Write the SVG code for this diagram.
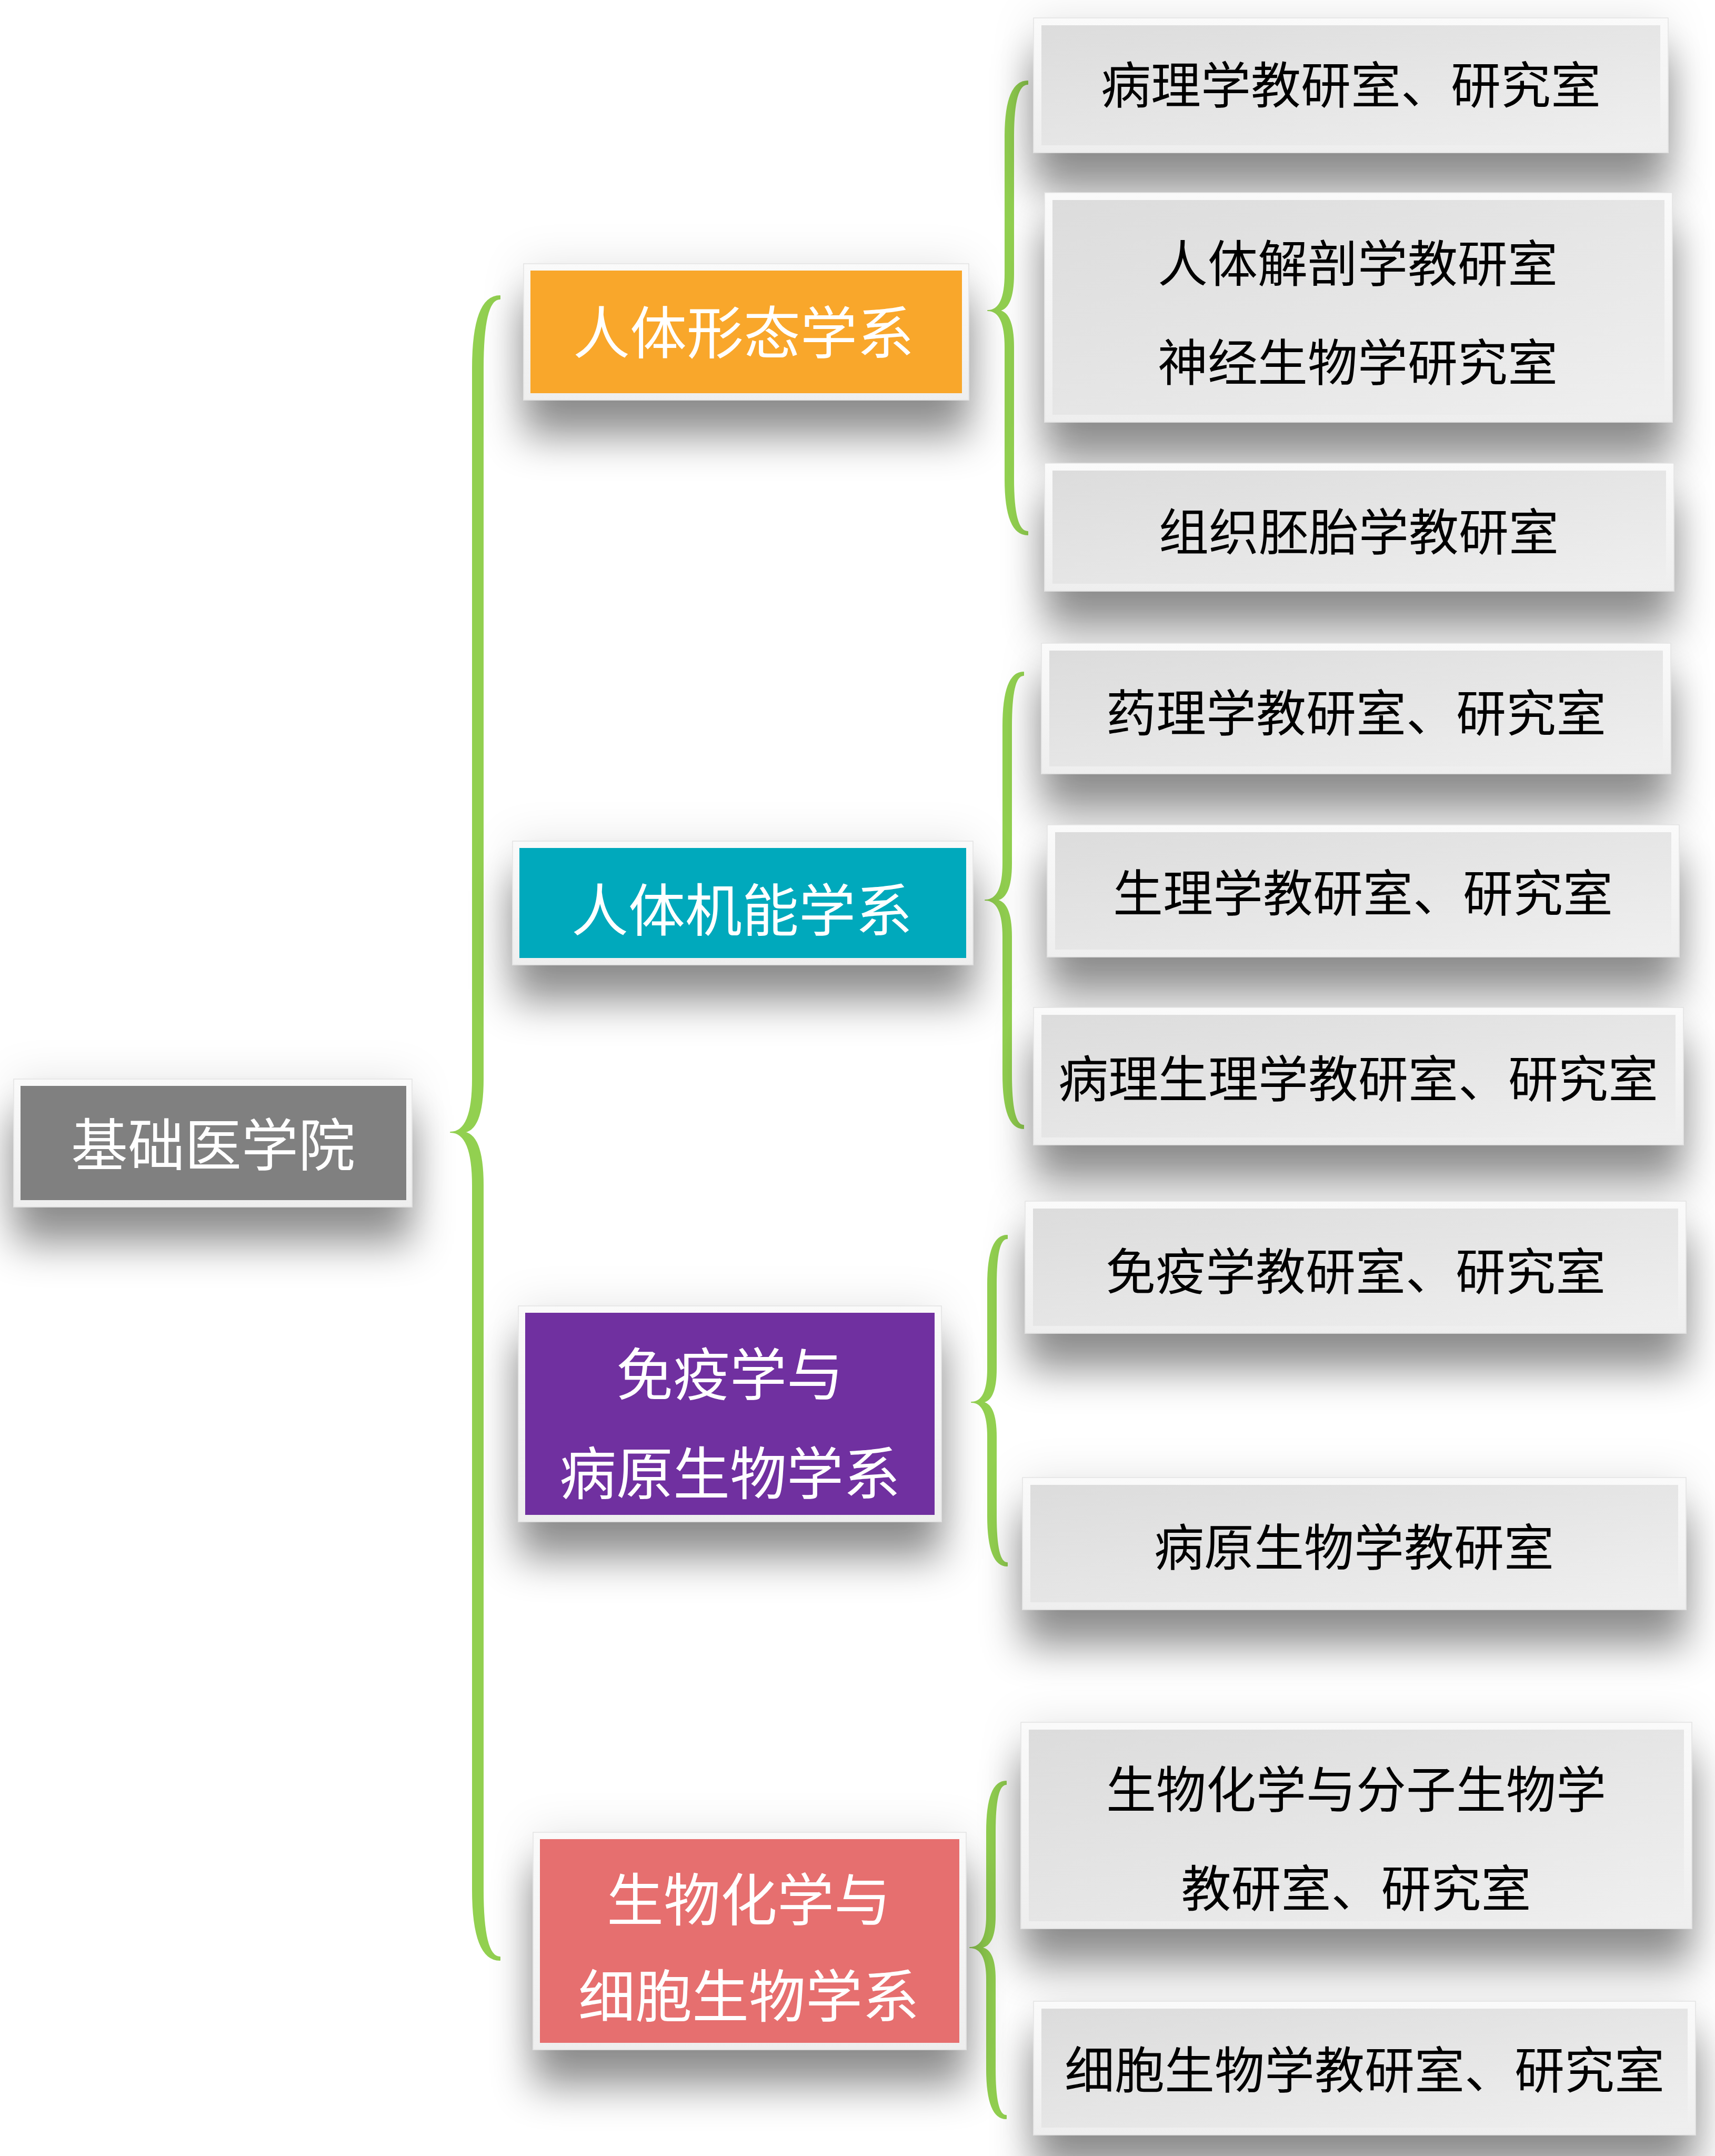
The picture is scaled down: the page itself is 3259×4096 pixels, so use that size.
<svg xmlns="http://www.w3.org/2000/svg" width="3259" height="4096" viewBox="0 0 3259 4096">
<defs>
<filter id="sh" x="-20%" y="-50%" width="140%" height="230%">
<feGaussianBlur in="SourceAlpha" stdDeviation="38" result="b1"/>
<feOffset in="b1" dy="70" result="o1"/>
<feFlood flood-color="#000" flood-opacity="0.42"/>
<feComposite in2="o1" operator="in" result="s1"/>
<feGaussianBlur in="SourceAlpha" stdDeviation="40" result="b2"/>
<feFlood flood-color="#000" flood-opacity="0.10"/>
<feComposite in2="b2" operator="in" result="s2"/>
<feMerge><feMergeNode in="s2"/><feMergeNode in="s1"/><feMergeNode in="SourceGraphic"/></feMerge>
</filter>
<linearGradient id="gg" x1="0" y1="0" x2="1" y2="1">
<stop offset="0" stop-color="#DCDCDC"/>
<stop offset="1" stop-color="#EFEFEF"/>
</linearGradient>
<linearGradient id="wb" x1="0" y1="0" x2="0" y2="1">
<stop offset="0" stop-color="#FAFAFA"/>
<stop offset="1" stop-color="#EEEEEE"/>
</linearGradient>
</defs>
<style>
.frame{fill:url(#wb);stroke:#E2E2E2;stroke-width:1.5}
.lv3{fill:url(#gg)}
.brace{fill:#92D050;stroke:#92D050;stroke-width:2;stroke-linejoin:round}
.tw{font-family:"Noto Sans CJK SC","Noto Sans",sans-serif;font-size:108px;fill:#FFFFFF;text-anchor:middle}
.tb{font-family:"Noto Sans CJK SC","Noto Sans",sans-serif;font-size:95px;fill:#000000;text-anchor:middle}
</style>
<rect width="3259" height="4096" fill="#FFFFFF"/>

<g id="connectors">
<path class="brace" d="M950,562 Q898,562 898,700 L898,2050 Q898,2151 856,2151 Q898,2151 898,2252 L898,3590 Q898,3724 950,3724 L950,3718 Q918,3718 918,3590 L918,2252 Q918,2151 878,2151 Q918,2151 918,2050 L918,700 Q918,568 950,568 Z"/>
<path class="brace" d="M1953,154 Q1910,154 1910,260 L1910,520 Q1910,590 1877,590 Q1910,590 1910,660 L1910,910 Q1910,1016 1953,1016 L1953,1010 Q1926,1010 1926,910 L1926,660 Q1926,590 1895,590 Q1926,590 1926,520 L1926,260 Q1926,160 1953,160 Z"/>
<path class="brace" d="M1945,1277 Q1906,1277 1906,1380 L1906,1640 Q1906,1710 1872,1710 Q1906,1710 1906,1780 L1906,2040 Q1906,2144 1945,2144 L1945,2138 Q1922,2138 1922,2040 L1922,1780 Q1922,1710 1890,1710 Q1922,1710 1922,1640 L1922,1380 Q1922,1283 1945,1283 Z"/>
<path class="brace" d="M1914,2347 Q1877,2347 1877,2440 L1877,2600 Q1877,2664 1846,2664 Q1877,2664 1877,2730 L1877,2880 Q1877,2975 1914,2975 L1914,2969 Q1893,2969 1893,2880 L1893,2730 Q1893,2664 1864,2664 Q1893,2664 1893,2600 L1893,2440 Q1893,2353 1914,2353 Z"/>
<path class="brace" d="M1912,3384 Q1875,3384 1875,3480 L1875,3640 Q1875,3700 1843,3700 Q1875,3700 1875,3760 L1875,3930 Q1875,4025 1912,4025 L1912,4019 Q1891,4019 1891,3930 L1891,3760 Q1891,3700 1861,3700 Q1891,3700 1891,3640 L1891,3480 Q1891,3390 1912,3390 Z"/>
</g>

<g id="root">
<rect class="frame" x="26" y="2050" width="757" height="243" filter="url(#sh)"/>
<rect x="39" y="2063" width="733" height="217" fill="#808080"/>
<text class="tw" x="405" y="2215">基础医学院</text>
</g>

<g id="dept1">
<rect class="frame" x="995" y="501" width="846" height="259" filter="url(#sh)"/>
<rect x="1008" y="514" width="820" height="233" fill="#F9A72B"/>
<text class="tw" x="1413" y="672">人体形态学系</text>
</g>
<g id="dept2">
<rect class="frame" x="974" y="1598" width="875" height="235" filter="url(#sh)"/>
<rect x="987" y="1611" width="849" height="209" fill="#00A9BC"/>
<text class="tw" x="1410" y="1769">人体机能学系</text>
</g>
<g id="dept3">
<rect class="frame" x="985" y="2481" width="804" height="410" filter="url(#sh)"/>
<rect x="998" y="2494" width="778" height="384" fill="#7030A0"/>
<text class="tw" x="1387" y="2651">免疫学与</text>
<text class="tw" x="1387" y="2839">病原生物学系</text>
</g>
<g id="dept4">
<rect class="frame" x="1013" y="3481" width="823" height="413" filter="url(#sh)"/>
<rect x="1026" y="3494" width="797" height="387" fill="#E66F6F"/>
<text class="tw" x="1423" y="3649">生物化学与</text>
<text class="tw" x="1423" y="3832">细胞生物学系</text>
</g>

<g id="lab1">
<rect class="frame" x="1964" y="34" width="1206" height="256" filter="url(#sh)"/>
<rect class="lv3" x="1979" y="48" width="1176" height="228"/>
<text class="tb" x="2567" y="197">病理学教研室、研究室</text>
</g>
<g id="lab2">
<rect class="frame" x="1985" y="366" width="1193" height="436" filter="url(#sh)"/>
<rect class="lv3" x="2000" y="380" width="1163" height="408"/>
<text class="tb" x="2580" y="536">人体解剖学教研室</text>
<text class="tb" x="2580" y="724">神经生物学研究室</text>
</g>
<g id="lab3">
<rect class="frame" x="1985" y="880" width="1196" height="243" filter="url(#sh)"/>
<rect class="lv3" x="2000" y="894" width="1166" height="215"/>
<text class="tb" x="2582" y="1046">组织胚胎学教研室</text>
</g>
<g id="lab4">
<rect class="frame" x="1979" y="1222" width="1196" height="248" filter="url(#sh)"/>
<rect class="lv3" x="1994" y="1236" width="1166" height="220"/>
<text class="tb" x="2577" y="1390">药理学教研室、研究室</text>
</g>
<g id="lab5">
<rect class="frame" x="1990" y="1567" width="1201" height="251" filter="url(#sh)"/>
<rect class="lv3" x="2005" y="1581" width="1171" height="223"/>
<text class="tb" x="2590" y="1732">生理学教研室、研究室</text>
</g>
<g id="lab6">
<rect class="frame" x="1964" y="1914" width="1235" height="261" filter="url(#sh)"/>
<rect class="lv3" x="1979" y="1928" width="1205" height="233"/>
<text class="tb" x="2581" y="2085">病理生理学教研室、研究室</text>
</g>
<g id="lab7">
<rect class="frame" x="1948" y="2282" width="1256" height="251" filter="url(#sh)"/>
<rect class="lv3" x="1963" y="2296" width="1226" height="223"/>
<text class="tb" x="2576" y="2451">免疫学教研室、研究室</text>
</g>
<g id="lab8">
<rect class="frame" x="1943" y="2807" width="1261" height="251" filter="url(#sh)"/>
<rect class="lv3" x="1958" y="2821" width="1231" height="223"/>
<text class="tb" x="2573" y="2975">病原生物学教研室</text>
</g>
<g id="lab9">
<rect class="frame" x="1940" y="3272" width="1275" height="392" filter="url(#sh)"/>
<rect class="lv3" x="1955" y="3286" width="1245" height="364"/>
<text class="tb" x="2577" y="3435">生物化学与分子生物学</text>
<text class="tb" x="2577" y="3623">教研室、研究室</text>
</g>
<g id="lab10">
<rect class="frame" x="1964" y="3802" width="1258" height="254" filter="url(#sh)"/>
<rect class="lv3" x="1979" y="3816" width="1228" height="226"/>
<text class="tb" x="2593" y="3968">细胞生物学教研室、研究室</text>
</g>
</svg>
